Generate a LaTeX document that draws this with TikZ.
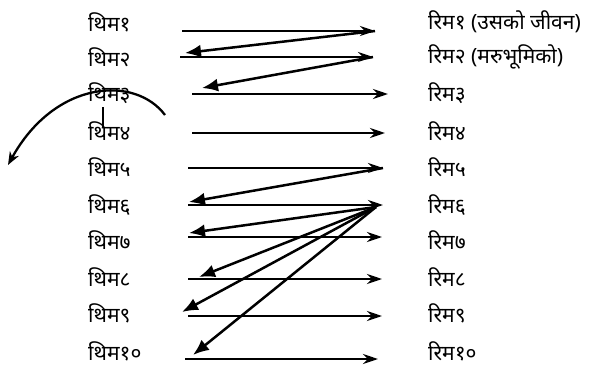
\documentclass[tikz,border=0pt]{standalone}
\usepackage{fontspec}
\newfontfamily\devfont[Script=Devanagari]{Noto Sans}
\usetikzlibrary{arrows.meta}
\tikzset{
  lbl/.style={font=\devfont\fontsize{21}{24}\selectfont, inner sep=0pt, anchor=west},
  map/.style={-{Stealth[length=15pt, width=10pt, inset=5pt]}, line width=2.5pt},
  back/.style={-{Latex[length=16pt, width=13pt]}, line width=2.5pt},
  turn/.style={-{Stealth[length=13pt, width=10pt, inset=4pt]}, line width=2.3pt},
}
\begin{document}
\begin{tikzpicture}[x=1pt, y=-1pt]
  \useasboundingbox (0,0) rectangle (599,370);
  % left and right labels
  \foreach \i/\d/\y in {1/१/22, 2/२/57, 3/३/93, 4/४/131, 5/५/167, 6/६/205, 7/७/240, 8/८/277, 9/९/313, 10/१०/351}
    \node[lbl] (t\i) at (88,\y) {थिम\d};
  \node[lbl] (r1) at (428,22) {रिम१ (उसको जीवन)};
  \node[lbl] (r2) at (428,57) {रिम२ (मरुभूमिको)};
  \foreach \i/\d/\y in {3/३/93, 4/४/131, 5/५/167, 6/६/205, 7/७/240, 8/८/277, 9/९/313, 10/१०/351}
    \node[lbl] (r\i) at (428,\y) {रिम\d};
  % straight mappings
  \foreach \i/\xa/\xb/\y in {1/182/375/31, 2/180/373/57, 3/192/388/94, 4/192/385/133, 5/188/383/168, 6/188/383/205, 7/188/382/237, 8/188/382/279, 9/188/382/316, 10/185/378/359} {
    \coordinate (a\i) at (\xa,\y);
    \coordinate (b\i) at (\xb,\y);
    \draw[map] (a\i) -- (b\i);
  }
  % back arrows
  \coordinate (hub) at (376,207);
  \coordinate (h2) at (185,53);
  \coordinate (h3) at (202,88);
  \coordinate (h6) at (189,202);
  \coordinate (h7) at (189,233);
  \coordinate (h8) at (199,277);
  \coordinate (h9) at (182,312);
  \coordinate (h10) at (193,355);
  \draw[back] (b1) -- (h2);
  \draw[back] (b2) -- (h3);
  \draw[back] (b5) -- (h6);
  \foreach \j in {7,8,9,10}
    \draw[back] (hub) -- (h\j);
  % turning arrow
  \coordinate (c1) at (165,115);
  \coordinate (c2) at (8,165);
  \draw[turn] (c1) .. controls (135,75) and (55,80) .. (c2);
  \coordinate (v1) at (103,107);
  \coordinate (v2) at (103,127);
  \draw[line width=2.5pt] (v1) -- (v2);
\end{tikzpicture}
\end{document}
